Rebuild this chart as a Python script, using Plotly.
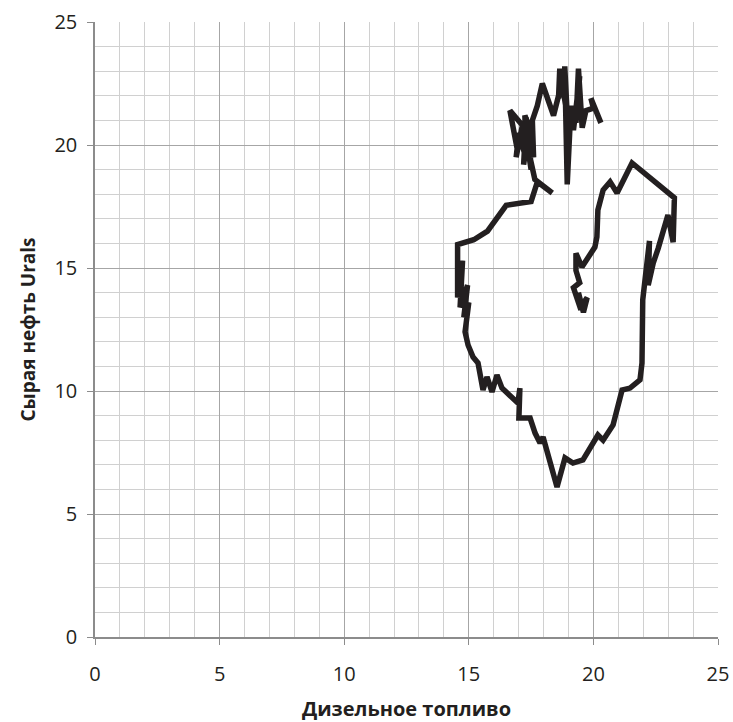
import plotly.graph_objects as go

# Trajectory of prices: diesel fuel (x) vs Urals crude (y)
diesel = [
    20.30, 19.90, 20.00, 19.70, 19.55, 19.40, 19.30, 19.45, 19.20, 19.10,
    18.95, 18.85, 18.95, 18.65, 18.60, 18.75, 18.40, 17.95, 17.75, 17.55,
    17.60, 17.30, 17.20, 17.40, 17.00, 16.90, 17.15, 16.65, 16.95, 17.10,
    17.30, 17.25, 17.40, 17.50, 17.35, 17.65, 18.35, 18.20, 17.75, 17.50,
    16.50, 15.75, 15.20, 14.55, 14.55, 14.75, 14.65, 14.95, 14.80, 15.00,
    14.85, 14.97, 15.17, 15.37, 15.57, 15.73, 15.93, 16.13, 16.33, 16.97,
    17.05, 17.01, 17.46, 17.66, 17.86, 17.98, 18.54, 18.86, 19.18, 19.58,
    20.18, 20.39, 20.79, 21.15, 21.47, 21.87, 21.95, 21.98, 22.05, 22.25,
    22.20, 22.40, 22.60, 22.99, 23.20, 23.25, 21.55, 20.95, 20.67, 20.39,
    20.18, 20.14, 20.06, 19.54, 19.30, 19.30, 19.45, 19.20, 19.50, 19.40,
    19.60, 19.75, 19.55,
]
urals = [
    20.90, 21.90, 21.50, 21.40, 20.70, 23.10, 20.90, 22.80, 20.60, 21.60,
    18.40, 23.20, 21.20, 23.10, 21.90, 22.60, 21.20, 22.50, 21.60, 21.00,
    19.50, 21.10, 19.20, 20.60, 20.40, 19.50, 20.80, 21.40, 19.80, 20.20,
    19.40, 21.20, 20.80, 19.00, 20.00, 18.60, 18.05, 18.10, 18.50, 17.70,
    17.55, 16.50, 16.15, 15.95, 13.80, 15.30, 13.40, 14.30, 13.00, 13.60,
    12.40, 11.87, 11.38, 11.14, 10.04, 10.57,  9.96, 10.65, 10.12,  9.51,
    10.12,  8.90,  8.90,  8.29,  7.89,  8.13,  6.10,  7.28,  7.07,  7.20,
     8.21,  8.00,  8.62, 10.04, 10.12, 10.45, 11.14, 13.70, 14.30, 16.10,
    14.30, 15.20, 15.80, 17.15, 16.05, 17.85, 19.27, 18.05, 18.50, 18.17,
    17.36, 16.26, 15.85, 15.04, 15.60, 14.90, 14.40, 14.20, 13.30, 14.00,
    13.20, 13.80, 13.50,
]

x_title = "Дизельное топливо"
y_title = "Сырая нефть Urals"
tick_vals = [0, 5, 10, 15, 20, 25]

fig = go.Figure()
fig.add_trace(go.Scatter(
    x=diesel, y=urals, mode="lines",
    line=dict(color="#231f20", width=5.5),
    hoverinfo="skip", showlegend=False,
))

axis_common = dict(
    range=[0, 25],
    tickvals=tick_vals,
    automargin=False,
    showgrid=True, gridcolor="#a6a6a6", gridwidth=1,
    minor=dict(dtick=1, showgrid=True, gridcolor="#d0d0d0", gridwidth=1,
               ticks=""),
    showline=True, linecolor="#8c8c8c", linewidth=1.5,
    ticks="outside", ticklen=6, tickcolor="#8c8c8c", tickwidth=1,
    zeroline=False,
    tickfont=dict(family="Open Sans", size=20, color="#231f20"),
)

fig.update_xaxes(
    **axis_common,
    ticklabelstandoff=12,
    title=dict(text=x_title, standoff=18,
               font=dict(family="Open Sans", size=20, color="#231f20",
                         weight="bold")),
)
fig.update_yaxes(
    **axis_common,
    ticklabelstandoff=6,
    title=dict(text=y_title, standoff=14,
               font=dict(family="Open Sans", size=19, color="#231f20",
                         weight="bold")),
)

fig.update_layout(
    width=733, height=722,
    margin=dict(l=95, r=15, t=22, b=85),
    paper_bgcolor="white", plot_bgcolor="white",
)

fig.write_html("out.html")
